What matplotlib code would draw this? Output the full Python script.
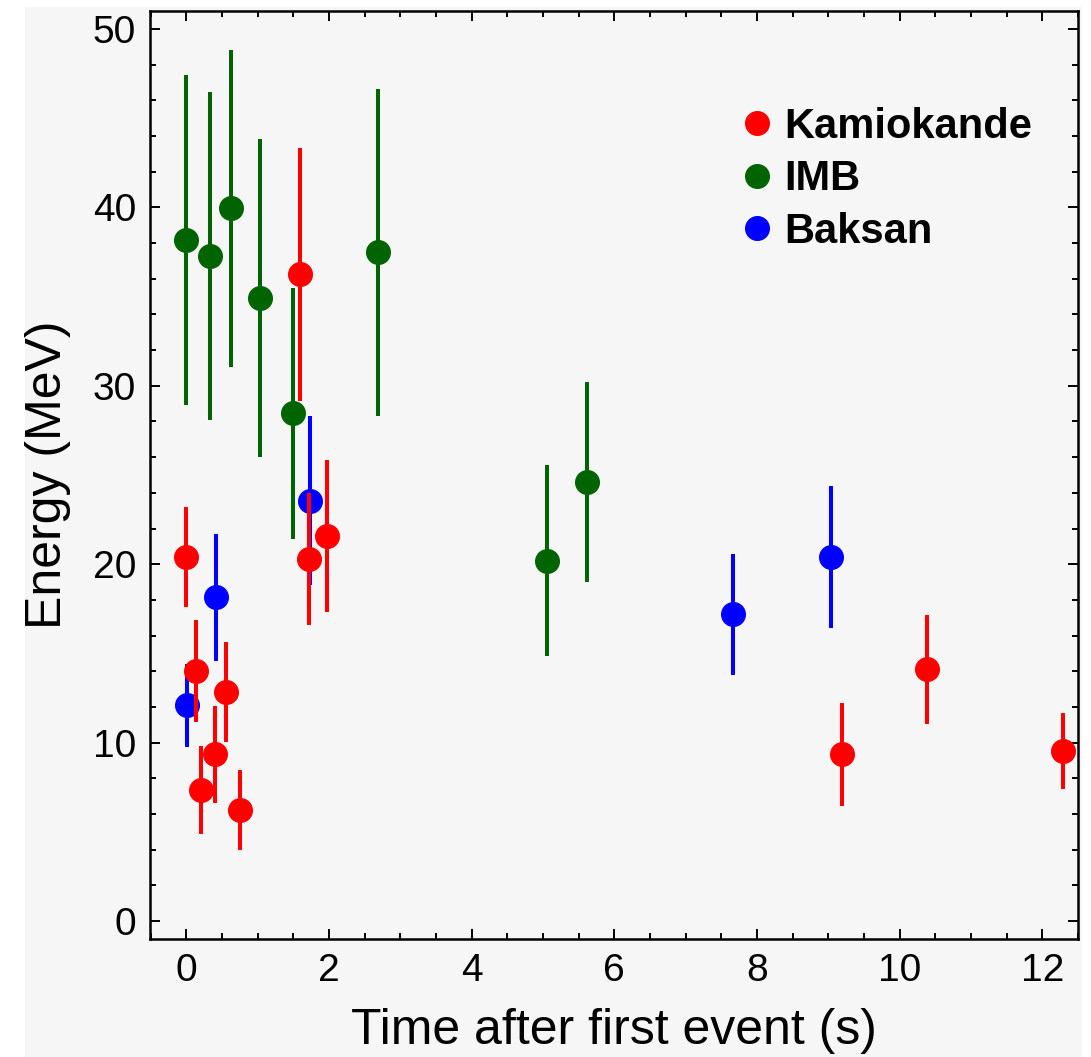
import matplotlib
matplotlib.use("Agg")
import matplotlib.pyplot as plt
from matplotlib.patches import Rectangle
from matplotlib.lines import Line2D
from matplotlib.ticker import MultipleLocator

plt.rcParams['font.family'] = ['Liberation Sans', 'DejaVu Sans']

# Kamiokande events: time (s), energy (MeV), error (MeV)
kam_t = [0.0, 0.14, 0.20, 0.40, 0.55, 0.75, 1.59, 1.72, 1.97, 9.19, 10.38, 12.29]
kam_e = [20.4, 14.0, 7.35, 9.34, 12.84, 6.22, 36.25, 20.29, 21.58, 9.34, 14.12, 9.55]
kam_err = [2.8, 2.85, 2.45, 2.7, 2.8, 2.24, 7.1, 3.7, 4.25, 2.86, 3.05, 2.12]

# IMB events
imb_t = [0.0, 0.33, 0.62, 1.03, 1.49, 2.68, 5.06, 5.62]
imb_e = [38.17, 37.28, 39.94, 34.9, 28.45, 37.48, 20.2, 24.63]
imb_err = [9.25, 9.2, 8.9, 8.9, 7.05, 9.15, 5.37, 5.6]

# Baksan events
bak_t = [0.01, 0.42, 1.74, 7.67, 9.04]
bak_e = [12.1, 18.14, 23.56, 17.19, 20.4]
bak_err = [2.33, 3.58, 4.72, 3.39, 4.0]

labels = ["Kamiokande", "IMB", "Baksan"]
colors = ["#ff0000", "#006400", "#0000ff"]

bg = "#f6f6f6"

fig = plt.figure(figsize=(10.91, 10.57), dpi=100)
fig.patch.set_facecolor("white")
fig.patches.append(Rectangle((25 / 1091, 0), 1057 / 1091, 1050 / 1057,
                             transform=fig.transFigure, facecolor=bg,
                             edgecolor="none", zorder=-10))

ax = fig.add_axes([150 / 1091, 1 - 939 / 1057, 928 / 1091, 928 / 1057])
ax.set_facecolor(bg)

ms = 17
elw = 2.9
# Baksan first, Kamiokande last (on top)
ax.errorbar(bak_t, bak_e, yerr=bak_err, fmt='o', color=colors[2], ms=ms,
            elinewidth=elw, capsize=0, zorder=3)
ax.errorbar(imb_t, imb_e, yerr=imb_err, fmt='o', color=colors[1], ms=ms,
            elinewidth=elw, capsize=0, zorder=4)
ax.errorbar(kam_t, kam_e, yerr=kam_err, fmt='o', color=colors[0], ms=ms,
            elinewidth=elw, capsize=0, zorder=5)

ax.set_xlim(-0.51, 12.5)
ax.set_ylim(-1, 51)

ax.xaxis.set_major_locator(MultipleLocator(2))
ax.xaxis.set_minor_locator(MultipleLocator(0.5))
ax.yaxis.set_major_locator(MultipleLocator(10))
ax.yaxis.set_minor_locator(MultipleLocator(2))
ax.tick_params(which='both', direction='in', top=True, right=True, width=1.4)
ax.tick_params(which='major', length=7, labelsize=28, pad=10)
ax.tick_params(which='minor', length=4.5)
for s in ax.spines.values():
    s.set_linewidth(1.8)

ax.set_xlabel("Time after first event (s)", fontsize=36, labelpad=14)
ax.set_ylabel("Energy (MeV)", fontsize=36, labelpad=16)

handles = [Line2D([], [], marker='o', ls='none', color=c, ms=ms) for c in colors]
ax.legend(handles, labels, loc='upper left', bbox_to_anchor=(0.632, 0.897),
          frameon=False, prop={'weight': 'bold', 'size': 30},
          handlelength=1.0, handletextpad=0.15, labelspacing=0.3,
          borderpad=0, borderaxespad=0)

fig.savefig("out.png", dpi=100, facecolor=fig.get_facecolor())
